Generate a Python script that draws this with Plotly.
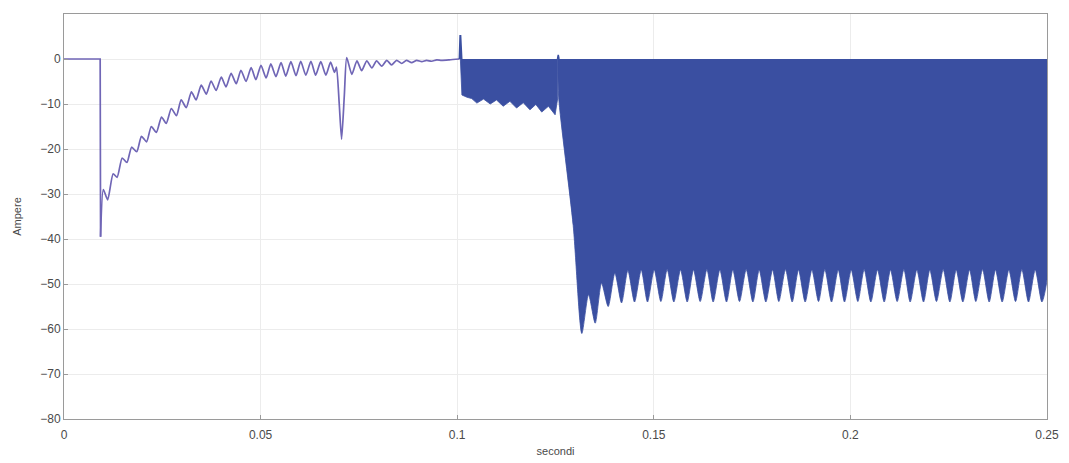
import plotly.graph_objects as go

# ---------------- data ----------------
# early transient (line)
t_line = [0.0000, 0.0092, 0.0093, 0.0100, 0.0111, 0.0125, 0.0135,
          0.0148, 0.0160, 0.0172, 0.0185, 0.0197, 0.0210, 0.0222, 0.0235,
          0.0248, 0.0260, 0.0273, 0.0286, 0.0298, 0.0311, 0.0324, 0.0336,
          0.0349, 0.0362, 0.0374, 0.0387, 0.0400, 0.0412, 0.0425, 0.0438,
          0.0450, 0.0463, 0.0476, 0.0488, 0.0501, 0.0514, 0.0526, 0.0539,
          0.0552, 0.0564, 0.0577, 0.0590, 0.0602, 0.0615, 0.0628, 0.0640,
          0.0653, 0.0666, 0.0678, 0.0688, 0.0693, 0.0700, 0.0706, 0.0713,
          0.0719, 0.0732, 0.0745, 0.0757, 0.0770, 0.0783, 0.0795, 0.0808,
          0.0821, 0.0833, 0.0846, 0.0859, 0.0871, 0.0884, 0.0897, 0.0910,
          0.0922, 0.0935, 0.0948, 0.0960, 0.0980, 0.1006]
i_line = [0.0, 0.0, -39.5, -29.0, -31.3, -25.5, -26.3,
          -22.0, -23.0, -19.6, -20.6, -17.2, -18.4, -15.0, -16.3,
          -12.9, -14.3, -11.0, -12.6, -9.1, -10.8, -7.3, -9.1,
          -5.8, -7.8, -4.9, -7.0, -4.0, -6.2, -3.2, -5.5,
          -2.5, -5.0, -1.9, -4.6, -1.4, -4.2, -1.1, -3.9,
          -0.8, -3.8, -0.6, -3.7, -0.5, -3.6, -0.5, -3.6,
          -0.6, -3.6, -0.7, -3.0, -1.8, -10.0, -17.8, -8.0,
          0.3, -3.4, -0.4, -2.6, -0.4, -2.0, -0.4, -1.6,
          -0.3, -1.3, -0.3, -1.0, -0.3, -0.8, -0.3, -0.6,
          -0.3, -0.5, -0.2, -0.3, -0.2, 0.0]

# switching region 1 (0.101 .. 0.1256): lower envelope of the band below 0 A
t_band1 = [0.1008, 0.1012, 0.1025, 0.1037, 0.1050, 0.1067, 0.1084, 0.1100,
           0.1117, 0.1134, 0.1151, 0.1168, 0.1185, 0.1200, 0.1215, 0.1232,
           0.1249, 0.1256]
i_band1 = [0.0, -8.0, -8.5, -8.8, -9.8, -8.9, -10.0, -9.1,
           -10.5, -9.4, -10.9, -9.7, -11.3, -10.1, -11.8, -10.5,
           -12.4, -8.5]

# switching region 2 (0.1256 .. 0.25): front edge then ripple envelope
t_front = [0.1258, 0.1295]
i_front = [-8.5, -37.0]
t_trough = [0.1317, 0.1351, 0.1384, 0.1418, 0.1451, 0.1484, 0.1518, 0.1551,
            0.1585, 0.1618, 0.1651, 0.1685, 0.1718, 0.1752, 0.1785, 0.1818,
            0.1852, 0.1885, 0.1919, 0.1952, 0.1985, 0.2019, 0.2052, 0.2086,
            0.2119, 0.2152, 0.2186, 0.2219, 0.2253, 0.2286, 0.2319, 0.2353,
            0.2386, 0.2420, 0.2453, 0.2487]
i_trough = [-61.0, -58.7, -55.0, -54.2, -54.0, -54.0, -53.9, -54.0,
            -54.0, -53.9, -54.0, -54.0, -53.9, -54.0, -54.0, -53.9,
            -54.0, -54.0, -53.9, -54.0, -54.0, -53.9, -54.0, -54.0,
            -53.9, -54.0, -54.0, -53.9, -54.0, -54.0, -53.9, -54.0,
            -54.0, -53.9, -54.0, -54.0]
t_peak = [0.1334, 0.1367, 0.1401, 0.1434, 0.1468, 0.1501, 0.1534, 0.1568,
          0.1601, 0.1635, 0.1668, 0.1701, 0.1735, 0.1768, 0.1802, 0.1835,
          0.1868, 0.1902, 0.1935, 0.1969, 0.2002, 0.2035, 0.2069, 0.2102,
          0.2136, 0.2169, 0.2202, 0.2236, 0.2269, 0.2303, 0.2336, 0.2369,
          0.2403, 0.2436, 0.2470, 0.2500]
i_peak = [-52.4, -49.8, -47.6, -47.0, -46.9, -46.9, -46.8, -46.9,
          -46.9, -46.8, -46.9, -46.9, -46.8, -46.9, -46.9, -46.8,
          -46.9, -46.9, -46.8, -46.9, -46.9, -46.8, -46.9, -46.9,
          -46.8, -46.9, -46.9, -46.8, -46.9, -46.9, -46.8, -46.9,
          -46.9, -46.8, -46.9, -49.0]

# short positive spikes at the switching instants
t_spike1 = [0.1006, 0.1008, 0.1011]
i_spike1 = [0.0, 5.3, 0.0]
t_spike2 = [0.1255, 0.1257, 0.1259]
i_spike2 = [0.0, 0.9, 0.0]

x_ticks = [0, 0.05, 0.1, 0.15, 0.2, 0.25]
x_tick_text = ["0", "0.05", "0.1", "0.15", "0.2", "0.25"]
y_ticks = [10, 0, -10, -20, -30, -40, -50, -60, -70, -80]

LINE_COLOR = "#7066b6"
FILL_COLOR = "#3a4fa1"
FONT = "Liberation Sans, Arial, sans-serif"

# envelope of region 2 assembled from the read points
t_band2 = [0.1256] + t_front
i_band2 = [0.0] + i_front
for tt, it, tp, ip in zip(t_trough, i_trough, t_peak, i_peak):
    t_band2 += [tt, tp]
    i_band2 += [it, ip]
t_band2 += [0.2500]
i_band2 += [0.0]

fig = go.Figure()

fig.add_trace(go.Scatter(x=t_band1, y=i_band1, mode="lines",
                         line=dict(color=FILL_COLOR, width=0.8),
                         fill="tozeroy", fillcolor=FILL_COLOR,
                         hoverinfo="skip", showlegend=False))
fig.add_trace(go.Scatter(x=t_band2, y=i_band2, mode="lines",
                         line=dict(color=FILL_COLOR, width=0.8,
                                   shape="spline", smoothing=0.7),
                         fill="tozeroy", fillcolor=FILL_COLOR,
                         hoverinfo="skip", showlegend=False))
fig.add_trace(go.Scatter(x=t_line[:3], y=i_line[:3], mode="lines",
                         line=dict(color=LINE_COLOR, width=1.7),
                         showlegend=False))
fig.add_trace(go.Scatter(x=t_line[2:], y=i_line[2:], mode="lines",
                         line=dict(color=LINE_COLOR, width=1.7,
                                   shape="spline", smoothing=0.6),
                         showlegend=False))
fig.add_trace(go.Scatter(x=t_spike1, y=i_spike1, mode="lines",
                         line=dict(color=FILL_COLOR, width=2),
                         showlegend=False))
fig.add_trace(go.Scatter(x=t_spike2, y=i_spike2, mode="lines",
                         line=dict(color=FILL_COLOR, width=1.5),
                         showlegend=False))

axis_common = dict(
    showline=True, linecolor="#9a9a9a", linewidth=1, mirror=True,
    ticks="inside", ticklen=4, tickcolor="#9a9a9a",
    showgrid=True, gridcolor="#ececec", gridwidth=1,
    zeroline=False,
    tickfont=dict(family=FONT, size=12, color="#4a4a4a"),
)

fig.update_xaxes(range=[0, 0.25], tickvals=x_ticks, ticktext=x_tick_text,
                 ticklabelstandoff=5,
                 title=dict(text="secondi", standoff=5,
                            font=dict(family=FONT, size=11, color="#4a4a4a")),
                 **axis_common)
fig.update_yaxes(range=[-80, 10], tickvals=y_ticks,
                 title=dict(text="Ampere", standoff=16,
                            font=dict(family=FONT, size=11, color="#4a4a4a")),
                 **axis_common)

# page body has an 8px margin; size/margins chosen so the plot box lands
# at x 64..1047, y 14..419 in the 1069x463 window
fig.update_layout(
    width=1061, height=455,
    margin=dict(l=56, r=22, t=6, b=44, autoexpand=False),
    plot_bgcolor="white", paper_bgcolor="white",
)

fig.write_html("out.html")
